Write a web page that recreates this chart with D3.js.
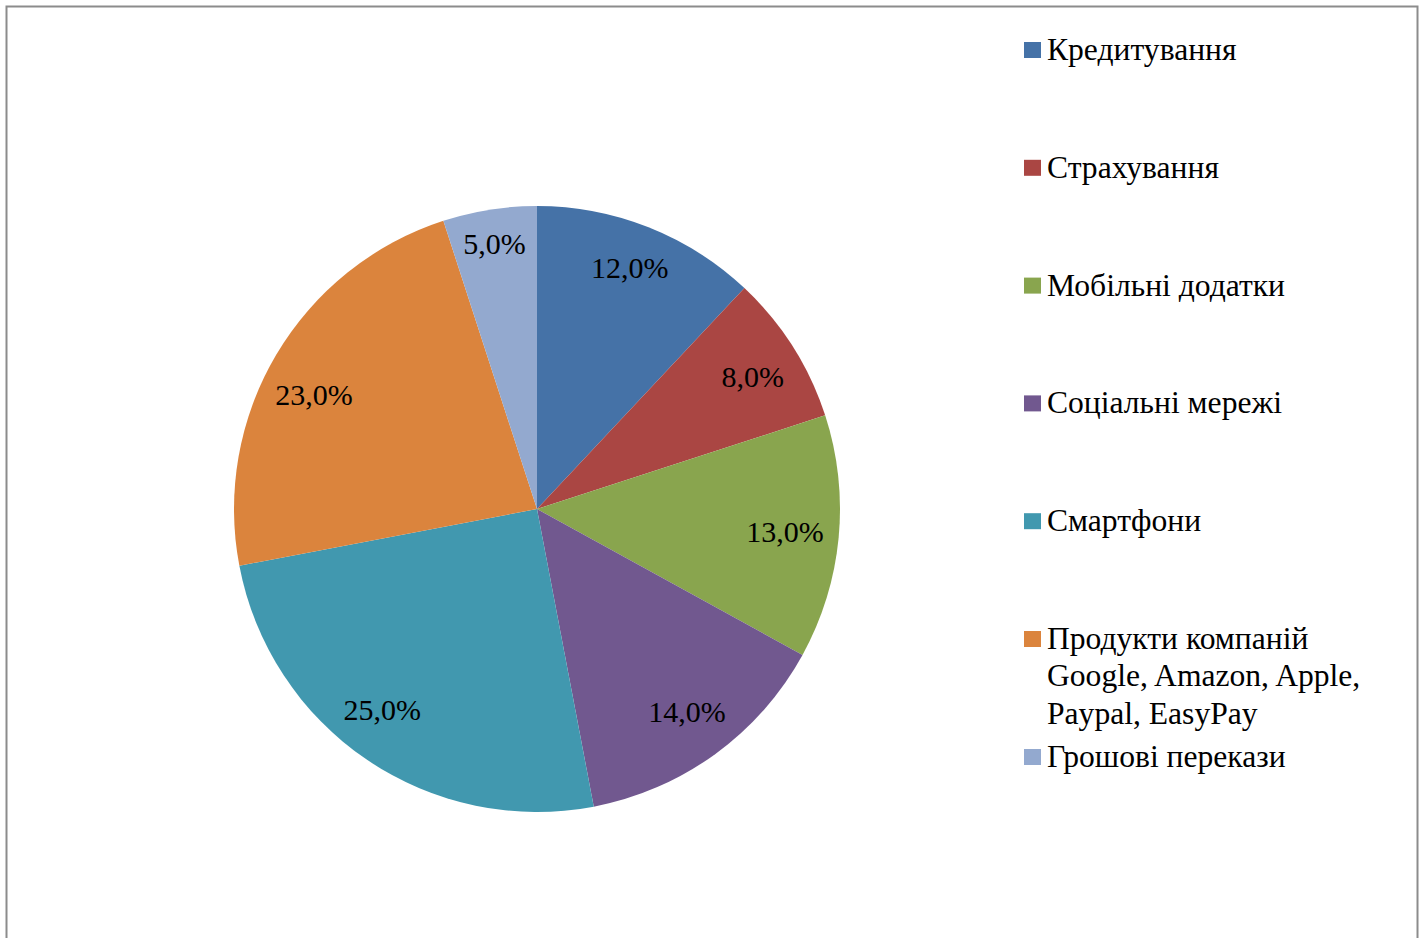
<!DOCTYPE html>
<html>
<head>
<meta charset="utf-8">
<script src="https://cdn.jsdelivr.net/npm/d3@7"></script>
<style>
  body { margin: 0; background: #fff; }
  svg text { font-family: "Liberation Serif", "Times New Roman", serif; fill: #000; }
</style>
</head>
<body>
<div id="chart"></div>
<script>
// chart data
var categories = ["Кредитування", "Страхування", "Мобільні додатки", "Соціальні мережі",
  "Смартфони", "Продукти компаній Google, Amazon, Apple, Paypal, EasyPay", "Грошові перекази"];
var values = [12, 8, 13, 14, 25, 23, 5];
var legendLines = [["Кредитування"], ["Страхування"], ["Мобільні додатки"], ["Соціальні мережі"],
  ["Смартфони"], ["Продукти компаній", "Google, Amazon, Apple,", "Paypal, EasyPay"], ["Грошові перекази"]];
var colors = ["#4572A7", "#AA4643", "#89A54E", "#71588F", "#4198AF", "#DB843D", "#93A9CF"];

var width = 1424, height = 938,
    cx = 537, cy = 509,
    radius = 303,
    label_radius = 252,
    label_size = 30,
    legend_size = 31.6;

// Excel "best fit" moves a few labels off the centroid
var label_nudge = [[0, -7], [3, 3.5], [-3, -1], [2, -1], [-13, -7], [-6, 14.5], [-3, -16.5]];

var svg = d3.select("#chart").append("svg")
  .attr("width", width)
  .attr("height", height);

// outer frame (bottom runs past the window)
svg.append("rect")
  .attr("x", 6.5).attr("y", 6.5)
  .attr("width", 1411).attr("height", 960)
  .attr("fill", "none")
  .attr("stroke", "#8c8c8c")
  .attr("stroke-width", 2);

var color = d3.scaleOrdinal().domain(categories).range(colors);

var pie = d3.pie().sort(null).value(function(d, i) { return values[i]; });
var arcs = pie(categories);

var arc = d3.arc().innerRadius(0).outerRadius(radius);
var labelArc = d3.arc().innerRadius(label_radius).outerRadius(label_radius);

var g = svg.append("g").attr("transform", "translate(" + cx + "," + cy + ")");

g.selectAll("path.slice")
  .data(arcs)
  .enter().append("path")
  .attr("class", "slice")
  .attr("d", arc)
  .attr("fill", function(d) { return color(d.data); });

var fmt = function(v) { return d3.format(".1f")(v).replace(".", ",") + "%"; };

g.selectAll("text.pct")
  .data(arcs)
  .enter().append("text")
  .attr("class", "pct")
  .attr("transform", function(d, i) {
    var c = labelArc.centroid(d);
    return "translate(" + (c[0] + label_nudge[i][0]) + "," + (c[1] + label_nudge[i][1]) + ")";
  })
  .attr("text-anchor", "middle")
  .attr("dy", "0.33em")
  .style("font-size", label_size + "px")
  .text(function(d, i) { return fmt(values[i]); });

// legend
var legendY = d3.scaleLinear().domain([0, 5]).range([50, 639]);
var legend_pos = categories.map(function(c, i) { return i < 6 ? legendY(i) : 757; });

var legend = svg.append("g");
var item = legend.selectAll("g.item")
  .data(categories)
  .enter().append("g")
  .attr("class", "item")
  .attr("transform", function(d, i) { return "translate(1024," + legend_pos[i] + ")"; });

item.append("rect")
  .attr("x", 0).attr("y", -8)
  .attr("width", 17).attr("height", 16)
  .attr("fill", function(d) { return color(d); });

item.each(function(d, i) {
  var t = d3.select(this).append("text")
    .style("font-size", legend_size + "px");
  legendLines[i].forEach(function(line, j) {
    t.append("tspan").attr("x", 23).attr("y", 10 + j * 37.3).text(line);
  });
});
</script>
</body>
</html>
